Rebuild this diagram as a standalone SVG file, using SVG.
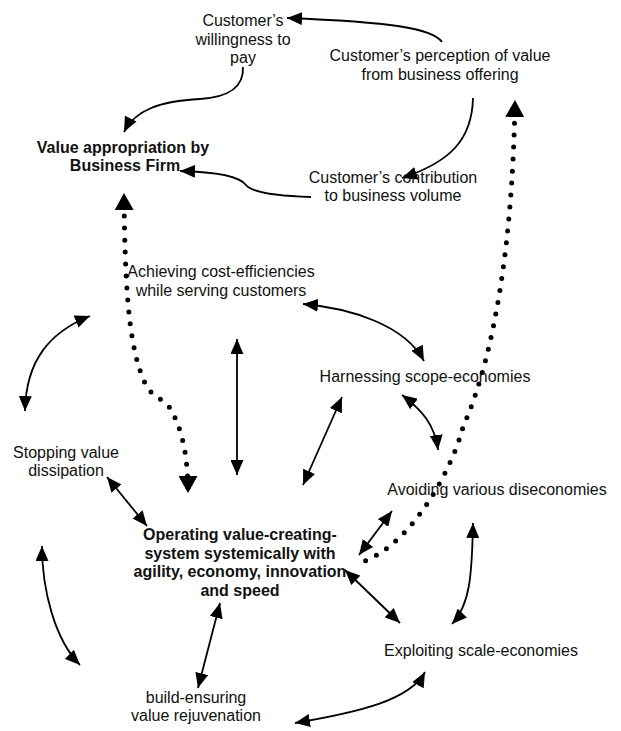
<svg xmlns="http://www.w3.org/2000/svg" width="621" height="731" viewBox="0 0 621 731">
<style>
text{font-family:"Liberation Sans",Arial,sans-serif;font-size:16px;fill:#111;text-anchor:middle}
.b{font-weight:bold}
.c{fill:none;stroke:#000;stroke-width:1.8}
.d{fill:none;stroke:#000;stroke-width:5;stroke-linecap:round;stroke-dasharray:0 12;stroke-dashoffset:1}
</style>
<defs>
<marker id="ah" viewBox="0 0 15 13" refX="15" refY="6.5" markerWidth="15" markerHeight="13" markerUnits="userSpaceOnUse" orient="auto-start-reverse"><path d="M0,0 L15,6.5 L0,13 z" fill="#000"/></marker>
<marker id="ahd" viewBox="0 0 17 19" refX="17" refY="9.5" markerWidth="17" markerHeight="19" markerUnits="userSpaceOnUse" orient="auto-start-reverse"><path d="M0,0 L17,9.5 L0,19 z" fill="#000"/></marker>
</defs>
<rect width="621" height="731" fill="#fff"/>
<g id="connectors">
<path class="c" d="M442,42 C432,28 390,22 287,18" marker-end="url(#ah)"/>
<path class="c" d="M243,67 C244,88 228,97 200,99 C160,101 135,110 124,132" marker-end="url(#ah)"/>
<path class="c" d="M473,98 C472,140 450,162 402,178" marker-end="url(#ah)"/>
<path class="c" d="M311,197 C280,196 252,193 246,185 C240,177 220,172 180,171" marker-end="url(#ah)"/>
<path class="d" d="M124,193 C125,300 130,350 145,383 C152,398 163,398 170,408 C180,425 188,450 188,493" marker-start="url(#ahd)" marker-end="url(#ahd)"/>
<path class="d" d="M515,100 C513,230 497,350 463,427 C452,470 410,548 359,563" marker-start="url(#ahd)"/>
<path class="c" d="M90,316 C50,332 26,360 25,411" marker-start="url(#ah)" marker-end="url(#ah)"/>
<path class="c" d="M237,339 L237,475" marker-start="url(#ah)" marker-end="url(#ah)"/>
<path class="c" d="M303,304 C350,308 405,325 424,361" marker-start="url(#ah)" marker-end="url(#ah)"/>
<path class="c" d="M342,397 L303,485" marker-start="url(#ah)" marker-end="url(#ah)"/>
<path class="c" d="M402,395 C422,410 435,425 438,450" marker-start="url(#ah)" marker-end="url(#ah)"/>
<path class="c" d="M392,511 L359,555" marker-start="url(#ah)" marker-end="url(#ah)"/>
<path class="c" d="M345,570 L400,623" marker-start="url(#ah)" marker-end="url(#ah)"/>
<path class="c" d="M473,523 C472,575 470,605 452,624" marker-start="url(#ah)" marker-end="url(#ah)"/>
<path class="c" d="M107,477 L147,526" marker-start="url(#ah)" marker-end="url(#ah)"/>
<path class="c" d="M42,546 C42,590 55,640 80,665" marker-start="url(#ah)" marker-end="url(#ah)"/>
<path class="c" d="M220,603 L198,688" marker-start="url(#ah)" marker-end="url(#ah)"/>
<path class="c" d="M425,672 C410,700 360,712 295,723" marker-start="url(#ah)" marker-end="url(#ah)"/>
</g>
<g id="willingness"><text x="243" y="26">Customer’s</text><text x="243" y="44.5">willingness to</text><text x="243" y="63">pay</text></g>
<g id="perception"><text x="440" y="61">Customer’s perception of value</text><text x="440" y="79.5">from business offering</text></g>
<g id="appropriation"><text class="b" x="123" y="153">Value appropriation by</text><text class="b" x="125" y="171">Business Firm</text></g>
<g id="contribution"><text x="393" y="183">Customer’s contribution</text><text x="393" y="201">to business volume</text></g>
<g id="cost-efficiencies"><text x="221" y="277">Achieving cost-efficiencies</text><text x="221" y="296">while serving customers</text></g>
<g id="scope"><text x="425" y="382">Harnessing scope-economies</text></g>
<g id="dissipation"><text x="66" y="458">Stopping value</text><text x="66" y="476">dissipation</text></g>
<g id="diseconomies"><text x="497" y="495">Avoiding various diseconomies</text></g>
<g id="operating"><text class="b" x="240" y="540">Operating value-creating-</text><text class="b" x="240" y="558.7">system systemically with</text><text class="b" x="240" y="577.4">agility, economy, innovation</text><text class="b" x="240" y="596">and speed</text></g>
<g id="scale"><text x="481" y="656">Exploiting scale-economies</text></g>
<g id="rejuvenation"><text x="196" y="703">build-ensuring</text><text x="196" y="721">value rejuvenation</text></g>
</svg>
